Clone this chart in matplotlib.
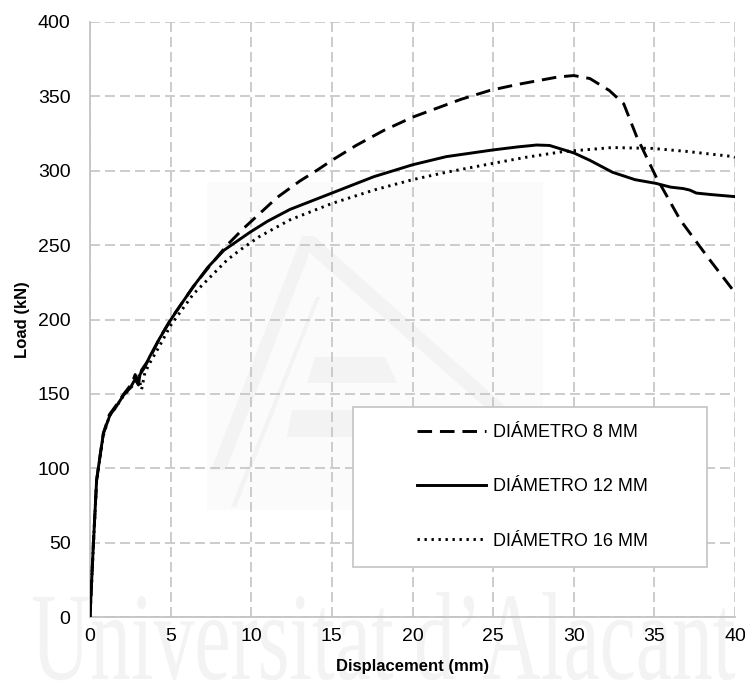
import numpy as np
import matplotlib
matplotlib.use("Agg")
import matplotlib.pyplot as plt
from matplotlib.patches import Rectangle, PathPatch, Polygon
from matplotlib.textpath import TextPath
from matplotlib.font_manager import FontProperties
from matplotlib.transforms import Affine2D

plt.rcParams['font.family'] = ['Liberation Sans', 'DejaVu Sans']

# load-displacement curves, read per bar diameter
disp_8 = [0, 0.2, 0.41, 0.62, 0.83, 1.2, 1.6, 2.1, 2.6, 2.8, 3.0, 3.2, 3.7, 4.3, 5.0,
          5.7, 6.4, 7.2, 8.5, 9.5, 10.5, 11.6, 13.0, 14.1, 15.0, 16.5, 18.2, 20.0,
          21.5, 23.0, 24.8, 26.5, 28.0, 29.0, 30.0, 31.0, 32.2, 33.1, 33.9, 35.1,
          36.6, 38.3, 40.0]
load_8 = [0, 47, 92, 108, 123.5, 136, 142, 150, 157, 163, 158, 166, 174, 187, 200,
          211, 222, 233, 250, 261, 271, 282, 293, 300.5, 307, 317, 327, 336,
          342, 348, 354, 358, 361, 363, 364, 362, 354, 345, 323, 296,
          267, 242, 218]

disp_12 = [0, 0.2, 0.41, 0.62, 0.83, 1.24, 1.6, 2.07, 2.5, 2.8, 3.0, 3.1, 3.4, 3.7,
           4.3, 5.0, 5.7, 6.4, 7.3, 8.3, 9.3, 9.9, 11.0, 12.4, 15.0, 17.6, 20.0,
           22.1, 25.0, 26.5, 27.7, 28.5, 29.1, 30.0, 31.0, 32.4, 33.8, 35.1, 36.0,
           36.8, 37.2, 37.6, 38.5, 40.0]
load_12 = [0, 47, 92, 108, 123.5, 135.8, 141, 149, 154, 160, 156, 163, 168, 175,
           187, 199.7, 211, 222, 235, 246.5, 254, 258.5, 266, 274, 285, 296, 304,
           309.5, 314, 316, 317.3, 317, 315, 312, 307, 299, 294, 291.5, 289,
           288, 287, 285, 284, 282.6]

disp_16 = [0, 0.2, 0.41, 0.62, 0.83, 1.2, 1.6, 2.1, 2.6, 3.0, 3.2, 3.4, 3.7, 4.3,
           5.0, 6.4, 8.5, 9.3, 10.5, 12.4, 15.0, 17.6, 20.0, 22.1, 25.0, 27.0,
           29.3, 32.4, 34.9, 37.0, 39.9, 40.0]
load_16 = [0, 46, 91, 107, 122, 135, 141, 149, 155, 162, 153, 164, 170.6, 182,
           196, 217, 240, 246.7, 255.7, 267, 278, 287, 294, 299, 305, 309,
           312.8, 315.6, 315, 313, 309.5, 309]

series = [
    (disp_8, load_8, 'DIÁMETRO 8 MM', (0, (5, 2.7))),
    (disp_12, load_12, 'DIÁMETRO 12 MM', '-'),
    (disp_16, load_16, 'DIÁMETRO 16 MM', (0, (0.8, 1.6))),
]

x_ticks = [0, 5, 10, 15, 20, 25, 30, 35, 40]
y_ticks = [0, 50, 100, 150, 200, 250, 300, 350, 400]

W, H = 745, 689
fig = plt.figure(figsize=(W / 100, H / 100), dpi=100)
ax = fig.add_axes([90 / W, 1 - 617 / H, 645 / W, 595 / H])
ax.set_zorder(1)
ax.patch.set_visible(False)


def fig_poly(pts, color):
    # polygon given in pixel coords measured from the top-left corner
    return Polygon([(px / W, 1 - py / H) for px, py in pts], closed=True,
                   transform=fig.transFigure, facecolor=color, edgecolor='none', zorder=0)


# faint background logo and university name
fig.add_artist(fig_poly([(207, 182), (543, 182), (543, 510), (207, 510)], '#fbfbfb'))
for pts in [[(302, 236), (314, 236), (543, 440), (543, 458), (311, 254)],
            [(302, 236), (312, 246), (226, 470), (211, 470)],
            [(316, 297), (320, 297), (236, 507), (231, 507)],
            [(315, 357), (385, 357), (397, 383), (307, 383)],
            [(292, 410), (430, 410), (447, 437), (287, 437)]]:
    fig.add_artist(fig_poly(pts, '#f3f3f3'))

tp = TextPath((0, 0), "Universitat d\u2019Alacant", size=100,
              prop=FontProperties(family='Liberation Serif'))
bb = tp.get_extents()
sx = 702 / bb.width
sy = 83 / 66.2
tr = Affine2D().translate(-bb.x0, 0).scale(sx, sy).translate(33, H - 679).scale(1 / W, 1 / H)
fig.add_artist(PathPatch(tp, transform=tr + fig.transFigure, facecolor='#f3f3f3',
                         edgecolor='none', zorder=0))

for xs, ys, name, ls in series:
    ax.plot(xs, ys, color='black', lw=2.1, linestyle=ls, label=name, zorder=3)

ax.set_xlim(0, 40)
ax.set_ylim(0, 400)
ax.set_xticks(x_ticks)
ax.set_yticks(y_ticks)
ax.tick_params(length=0, labelsize=14, pad=8)
ax.tick_params(axis='y', pad=14)

grid_color = '#c4c4c4'
ax.grid(True, color=grid_color, lw=1.2, linestyle=(0, (6, 3)))
ax.set_axisbelow(True)
for side in ['top', 'right']:
    ax.spines[side].set_visible(False)
for side in ['left', 'bottom']:
    ax.spines[side].set_color(grid_color)
    ax.spines[side].set_linewidth(1.3)

ax.set_xlabel('Displacement (mm)', fontsize=12, fontweight='bold')
ax.set_ylabel('Load (kN)', fontsize=12, fontweight='bold')
ax.xaxis.set_label_coords(0.5, -0.07)
ax.yaxis.set_label_coords(-0.093, 0.5)

# legend box
ax.add_patch(Rectangle((0.408, 0.084), 0.549, 0.269, transform=ax.transAxes,
                       facecolor='white', edgecolor=grid_color, lw=1.2, zorder=4))
leg = ax.legend(loc='center', bbox_to_anchor=(0.686, 0.2185), frameon=False,
                fontsize=13, handlelength=3.8, handletextpad=0.38, labelspacing=2.05)
leg.set_zorder(5)

fig.savefig('out.png', dpi=100)
